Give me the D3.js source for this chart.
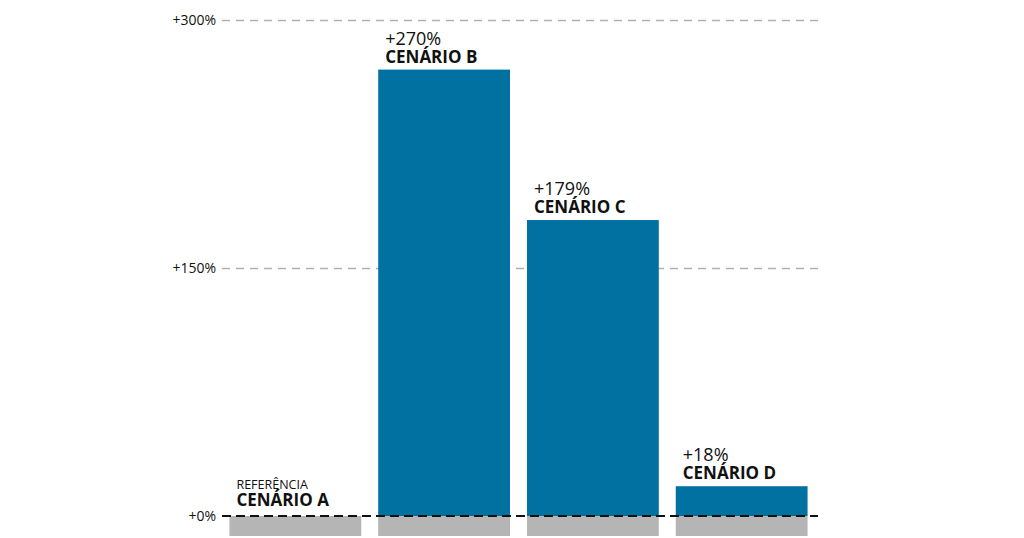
<!DOCTYPE html>
<meta charset="utf-8">
<script src="https://d3js.org/d3.v7.min.js"></script>
<style>
  body { margin: 0; background: #fff; }
  text { font-family: "Open Sans", sans-serif; }
</style>
<svg id="chart"></svg>
<script>
// data
const scenarios = ["CENÁRIO A", "CENÁRIO B", "CENÁRIO C", "CENÁRIO D"];
const values = [0, 270, 179, 18];
const valueLabels = ["", "+270%", "+179%", "+18%"];
const tickValues = [0, 150, 300];
const tickLabels = ["+0%", "+150%", "+300%"];

let svg = d3.select("#chart"),
    width = 1024,
    height = 538;

svg.attr("width", width).attr("height", height);

let x = d3.scaleBand()
    .domain(scenarios)
    .range([220.5, 816.5])
    .paddingInner(0.114)
    .paddingOuter(0.06);

let y = d3.scaleLinear()
    .domain([0, 300])
    .range([516, 20]);

// grey stubs under the baseline
svg.append("g")
  .selectAll("rect")
  .data(scenarios)
  .enter()
    .append("rect")
      .attr("x", d => x(d))
      .attr("y", y(0))
      .attr("width", x.bandwidth())
      .attr("height", 20)
      .attr("fill", "#b5b5b5");

// dashed gridlines + tick labels
let axis = d3.axisLeft(y)
    .tickValues(tickValues.filter(d => d > 0))
    .tickFormat((d) => tickLabels[tickValues.indexOf(d)])
    .tickSize(-(818 - 222))
    .tickPadding(6);

let ax = svg.append("g")
    .attr("transform", "translate(222,0)")
    .call(axis);
ax.select(".domain").remove();
ax.selectAll(".tick line")
    .attr("stroke", "#b0b0b0")
    .attr("stroke-width", 1.5)
    .attr("stroke-dasharray", "8,6");
ax.selectAll(".tick text")
    .attr("fill", "#111")
    .style("font-size", "14px")
    .style("font-family", "'Open Sans', sans-serif");

// bars
svg.append("g")
  .selectAll("rect")
  .data(scenarios)
  .enter()
    .append("rect")
      .attr("x", d => x(d))
      .attr("y", (d, i) => y(values[i]))
      .attr("width", x.bandwidth())
      .attr("height", (d, i) => y(0) - y(values[i]))
      .attr("fill", "#0071a0");

// zero line
svg.append("line")
    .attr("x1", 222).attr("x2", 818)
    .attr("y1", y(0)).attr("y2", y(0))
    .attr("stroke", "#111")
    .attr("stroke-width", 2)
    .attr("stroke-dasharray", "9,5");

svg.append("text")
    .attr("x", 216).attr("y", y(0) + 5)
    .attr("text-anchor", "end")
    .style("font-size", "14px")
    .attr("fill", "#111")
    .text(tickLabels[0]);

// labels above bars
let labels = svg.append("g")
  .selectAll("g")
  .data(scenarios)
  .enter()
    .append("g")
      .attr("transform", (d, i) => "translate(" + (x(d) + 7) + "," + y(values[i]) + ")");

labels.append("text")
    .attr("y", (d, i) => i == 0 ? -27 : -25)
    .style("font-size", (d, i) => i == 0 ? "12.5px" : "18px")
    .attr("fill", "#111")
    .text((d, i) => i == 0 ? "REFERÊNCIA" : valueLabels[i]);

labels.append("text")
    .attr("y", (d, i) => i == 0 ? -10 : -7)
    .style("font-size", "17px")
    .style("font-weight", "bold")
    .attr("fill", "#111")
    .text(d => d);
</script>
